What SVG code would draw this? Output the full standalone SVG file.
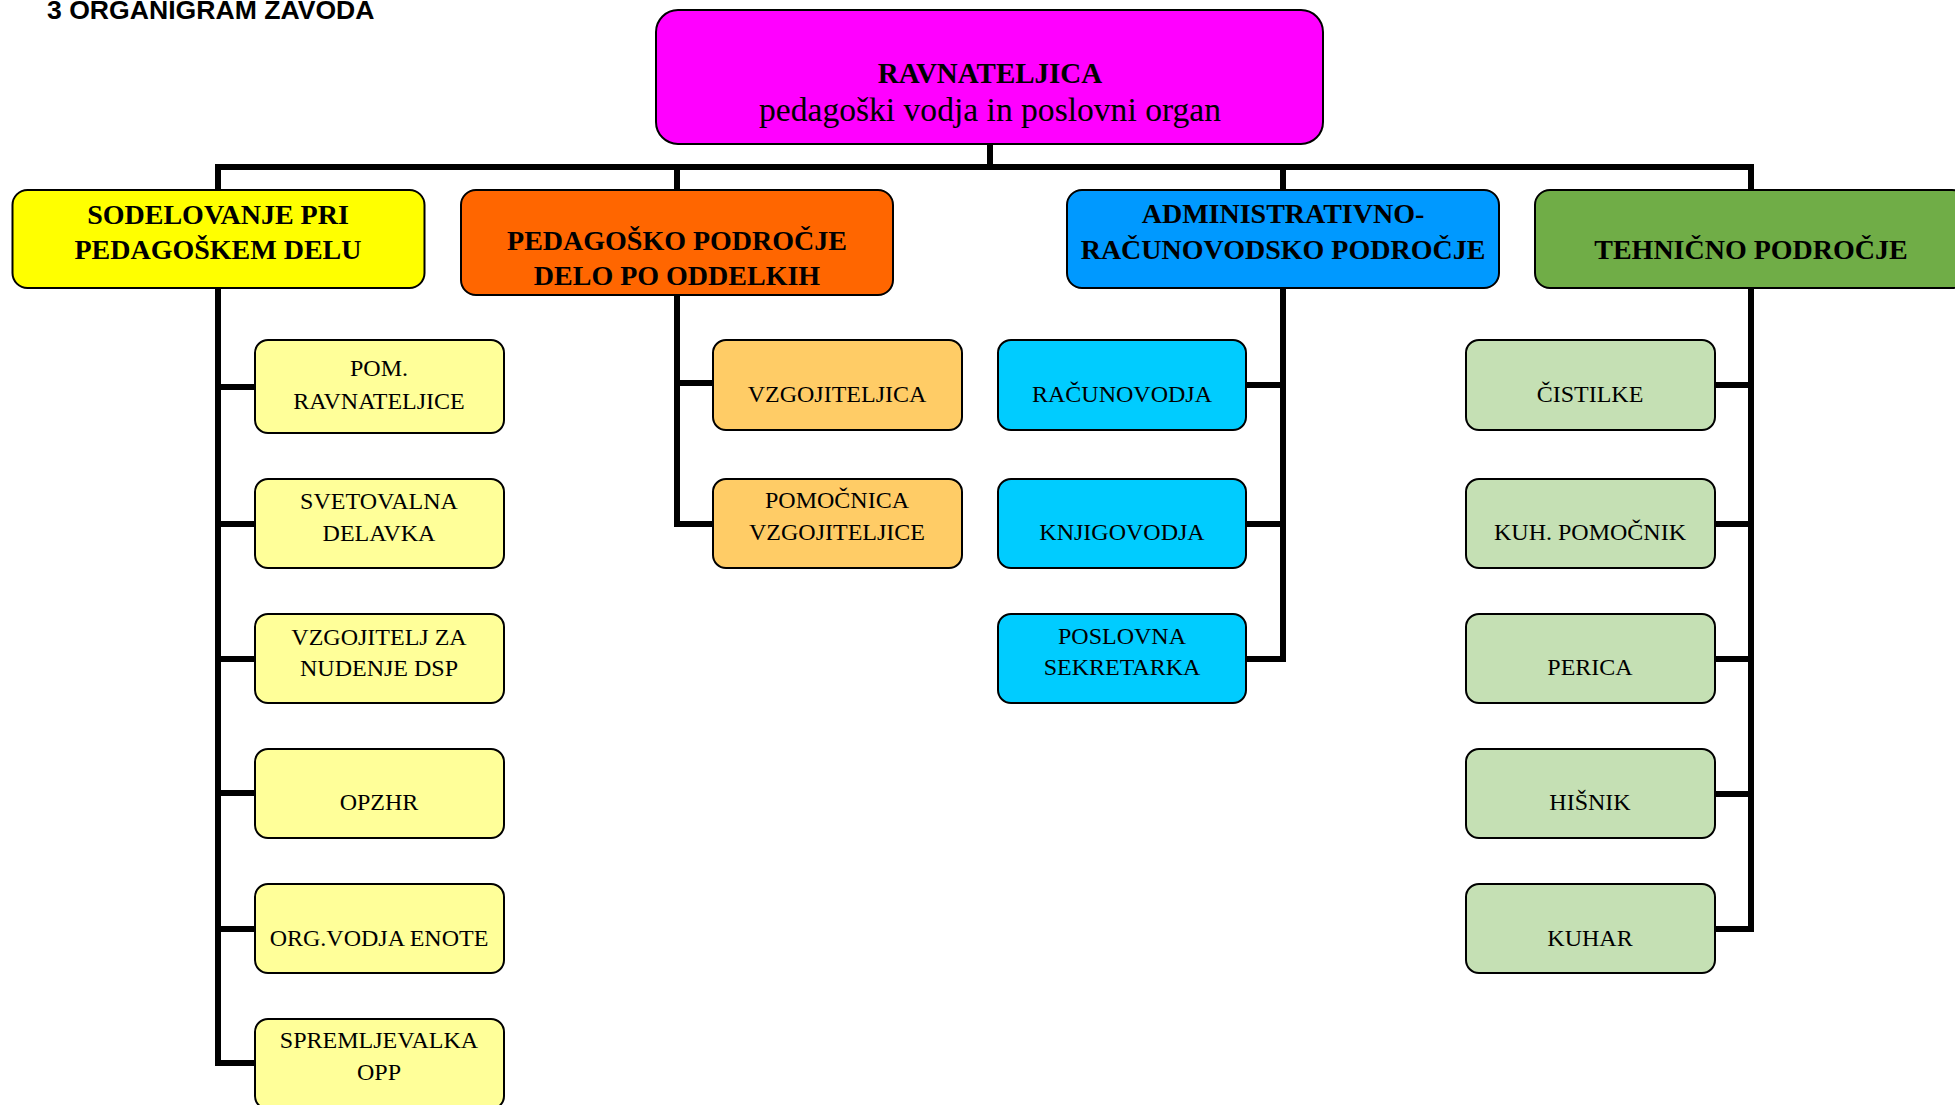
<svg xmlns="http://www.w3.org/2000/svg" width="1955" height="1105" viewBox="0 0 1955 1105">
<style>
.c{fill:none;stroke:#000;stroke-width:6;stroke-linejoin:miter}
.b{stroke:#000;stroke-width:2}
.t2{font-family:"Liberation Serif",serif;font-weight:bold;font-size:28px;text-anchor:middle;fill:#000}
.t3{font-family:"Liberation Serif",serif;font-size:24px;text-anchor:middle;fill:#000}
</style>
<rect width="1955" height="1105" fill="#fff"/>
<text x="47" y="19" font-family="Liberation Sans,Arial,sans-serif" font-weight="bold" font-size="26.6">3 ORGANIGRAM ZAVODA</text>
<g id="connectors">
<path class="c" d="M990 144V167M218 190V167H1751V190M677 167V190M1283 167V190"/>
<path class="c" d="M218 288V1063H255M218 387H255M218 524H255M218 659H255M218 793H255M218 929H255"/>
<path class="c" d="M677 295V524H713M677 383H713"/>
<path class="c" d="M1283 288V659H1246M1283 385H1246M1283 524H1246"/>
<path class="c" d="M1751 288V929H1715M1751 385H1715M1751 524H1715M1751 659H1715M1751 794H1715"/>
</g>
<g id="ravnateljica">
<rect class="b" x="656" y="10" width="667" height="134" rx="22" fill="#FF00FF"/>
<text x="990" y="83" font-family="Liberation Serif,serif" font-weight="bold" font-size="29" text-anchor="middle">RAVNATELJICA</text>
<text x="990" y="121" font-family="Liberation Serif,serif" font-size="33.6" text-anchor="middle">pedagoški vodja in poslovni organ</text>
</g>
<g id="sodelovanje">
<rect class="b" x="12.5" y="190" width="412" height="98" rx="15" fill="#FFFF00"/>
<text class="t2" x="218" y="224">SODELOVANJE PRI</text>
<text class="t2" x="218" y="259">PEDAGOŠKEM DELU</text>
</g>
<g id="pedagosko">
<rect class="b" x="461" y="190" width="432" height="105" rx="15" fill="#FF6600"/>
<text class="t2" x="677" y="250">PEDAGOŠKO PODROČJE</text>
<text class="t2" x="677" y="285">DELO PO ODDELKIH</text>
</g>
<g id="administrativno">
<rect class="b" x="1067" y="190" width="432" height="98" rx="15" fill="#0099FF"/>
<text class="t2" x="1283" y="223">ADMINISTRATIVNO-</text>
<text class="t2" x="1283" y="259">RAČUNOVODSKO PODROČJE</text>
</g>
<g id="tehnicno">
<rect class="b" x="1535" y="190" width="432" height="98" rx="15" fill="#70AD47"/>
<text class="t2" x="1751" y="259">TEHNIČNO PODROČJE</text>
</g>
<g id="pom-ravnateljice">
<rect class="b" x="255" y="340" width="249" height="93" rx="13" fill="#FFFF99"/>
<text class="t3" x="379" y="376">POM.</text>
<text class="t3" x="379" y="409">RAVNATELJICE</text>
</g>
<g id="svetovalna">
<rect class="b" x="255" y="479" width="249" height="89" rx="13" fill="#FFFF99"/>
<text class="t3" x="379" y="509">SVETOVALNA</text>
<text class="t3" x="379" y="541">DELAVKA</text>
</g>
<g id="vzgojitelj-dsp">
<rect class="b" x="255" y="614" width="249" height="89" rx="13" fill="#FFFF99"/>
<text class="t3" x="379" y="645">VZGOJITELJ ZA</text>
<text class="t3" x="379" y="676">NUDENJE DSP</text>
</g>
<g id="opzhr">
<rect class="b" x="255" y="749" width="249" height="89" rx="13" fill="#FFFF99"/>
<text class="t3" x="379" y="810">OPZHR</text>
</g>
<g id="org-vodja">
<rect class="b" x="255" y="884" width="249" height="89" rx="13" fill="#FFFF99"/>
<text class="t3" x="379" y="946">ORG.VODJA ENOTE</text>
</g>
<g id="spremljevalka">
<rect class="b" x="255" y="1019" width="249" height="90" rx="13" fill="#FFFF99"/>
<text class="t3" x="379" y="1048">SPREMLJEVALKA</text>
<text class="t3" x="379" y="1080">OPP</text>
</g>
<g id="vzgojiteljica">
<rect class="b" x="713" y="340" width="249" height="90" rx="13" fill="#FFCC66"/>
<text class="t3" x="837" y="402">VZGOJITELJICA</text>
</g>
<g id="pomocnica">
<rect class="b" x="713" y="479" width="249" height="89" rx="13" fill="#FFCC66"/>
<text class="t3" x="837" y="508">POMOČNICA</text>
<text class="t3" x="837" y="540">VZGOJITELJICE</text>
</g>
<g id="racunovodja">
<rect class="b" x="998" y="340" width="248" height="90" rx="13" fill="#00CCFF"/>
<text class="t3" x="1122" y="402">RAČUNOVODJA</text>
</g>
<g id="knjigovodja">
<rect class="b" x="998" y="479" width="248" height="89" rx="13" fill="#00CCFF"/>
<text class="t3" x="1122" y="540">KNJIGOVODJA</text>
</g>
<g id="sekretarka">
<rect class="b" x="998" y="614" width="248" height="89" rx="13" fill="#00CCFF"/>
<text class="t3" x="1122" y="644">POSLOVNA</text>
<text class="t3" x="1122" y="675">SEKRETARKA</text>
</g>
<g id="cistilke">
<rect class="b" x="1466" y="340" width="249" height="90" rx="13" fill="#C5E0B4"/>
<text class="t3" x="1590" y="402">ČISTILKE</text>
</g>
<g id="kuh-pomocnik">
<rect class="b" x="1466" y="479" width="249" height="89" rx="13" fill="#C5E0B4"/>
<text class="t3" x="1590" y="540">KUH. POMOČNIK</text>
</g>
<g id="perica">
<rect class="b" x="1466" y="614" width="249" height="89" rx="13" fill="#C5E0B4"/>
<text class="t3" x="1590" y="675">PERICA</text>
</g>
<g id="hisnik">
<rect class="b" x="1466" y="749" width="249" height="89" rx="13" fill="#C5E0B4"/>
<text class="t3" x="1590" y="810">HIŠNIK</text>
</g>
<g id="kuhar">
<rect class="b" x="1466" y="884" width="249" height="89" rx="13" fill="#C5E0B4"/>
<text class="t3" x="1590" y="946">KUHAR</text>
</g>
</svg>
